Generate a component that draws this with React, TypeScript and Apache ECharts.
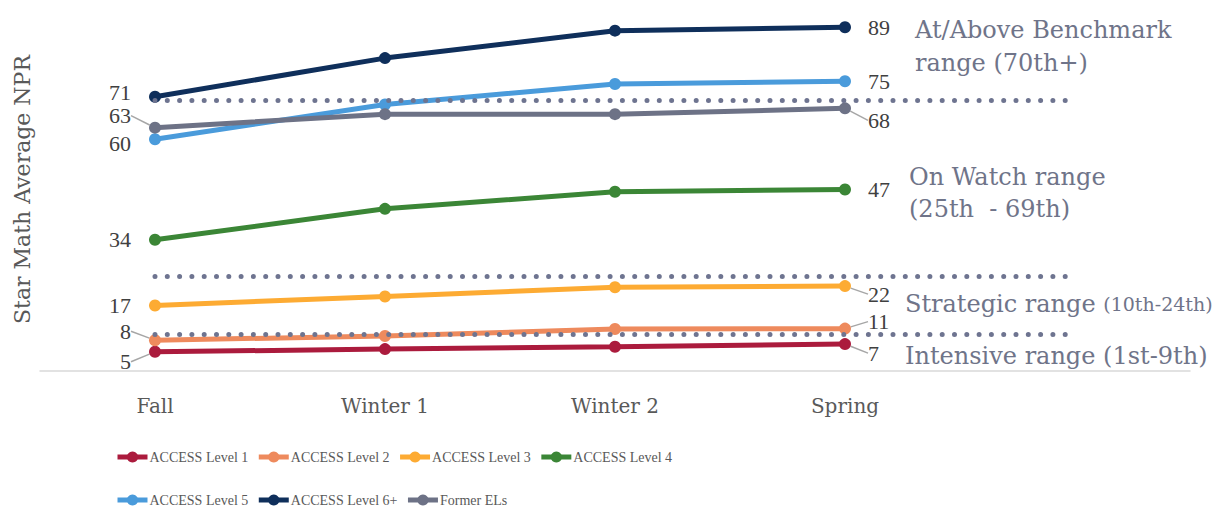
import React, { useEffect, useRef } from "react";
import * as echarts from "echarts";

// Test windows on the category axis; the trailing blank slot gives room for the range notes.
const categories = ["Fall", "Winter 1", "Winter 2", "Spring", ""];

// Star Math average NPR per ACCESS level
const level1 = [5, 5.7, 6.3, 7];
const level2 = [8, 9.1, 10.9, 11];
const level3 = [17, 19.3, 21.7, 22];
const level4 = [34, 42, 46.4, 47];
const level5 = [60, 69, 74.3, 75];
const level6 = [71, 81, 88.1, 89];
const formerELs = [63, 66.5, 66.5, 68];

// Range cut points (dotted guides)
const benchmarkCut = [70, 70, 70, 70, 70];
const onWatchCut = [24.5, 24.5, 24.5, 24.5, 24.5];
const strategicCut = [9.5, 9.5, 9.5, 9.5, 9.5];

const seriesNames = [
  "ACCESS Level 1",
  "ACCESS Level 2",
  "ACCESS Level 3",
  "ACCESS Level 4",
  "ACCESS Level 5",
  "ACCESS Level 6+",
  "Former ELs",
];
const seriesValues = [level1, level2, level3, level4, level5, level6, formerELs];
const seriesColors = ["#ab1b3d", "#ee8a5d", "#fdab33", "#3b8636", "#4a9bdb", "#0f2f5b", "#6d7286"];

// Vertical nudges for end labels that would otherwise collide
const leftNudge: Record<number, number> = { 0: 10, 1: -9, 4: 4, 5: -4, 6: -12 };
const rightNudge: Record<number, number> = { 0: 9, 1: -7, 2: 8, 6: 12 };

const LABEL_FONT = "Liberation Serif";
const SERIF = "DejaVu Serif";
const NOTE_COLOR = "#6f7489";

export default function App() {
  const ref = useRef<HTMLDivElement>(null);

  useEffect(() => {
    if (!ref.current) return;
    const chart = echarts.init(ref.current, undefined, { renderer: "svg" });

    const dataSeries = seriesValues.map((vals, si) => ({
      name: seriesNames[si],
      type: "line",
      z: 2 + si,
      symbol: "circle",
      symbolSize: 12,
      lineStyle: { width: 5, color: seriesColors[si] },
      itemStyle: { color: seriesColors[si] },
      label: {
        fontFamily: LABEL_FONT,
        fontSize: 22,
        lineHeight: 18,
        color: "#404040",
      },
      labelLayout: (p: any) => {
        if (p.dataIndex === 0 && leftNudge[si] !== undefined) return { dy: leftNudge[si] };
        if (p.dataIndex === vals.length - 1 && rightNudge[si] !== undefined) return { dy: rightNudge[si] };
        return {};
      },
      data: vals.map((v, i) => {
        const first = i === 0;
        const last = i === vals.length - 1;
        if (!first && !last) return v;
        const nudge = first ? leftNudge[si] : rightNudge[si];
        const withLeader = nudge !== undefined && Math.abs(nudge) > 4;
        return {
          value: v,
          label: {
            show: true,
            position: first ? "left" : "right",
            distance: first ? 18 : 17,
          },
          labelLine: withLeader
            ? { show: true, lineStyle: { color: "#a6a6a6", width: 1.5 } }
            : { show: false },
        };
      }),
    }));

    const guide = (name: string, vals: number[]) => ({
      name,
      type: "line",
      z: 20,
      silent: true,
      symbol: "none",
      lineStyle: { width: 5, color: "#6e7490", type: [0, 12.3], cap: "round" },
      data: vals,
    });

    const legendBase = {
      left: 115,
      padding: 0,
      itemWidth: 30,
      itemHeight: 14,
      itemGap: 8,
      lineStyle: { width: 5 },
      textStyle: { fontFamily: LABEL_FONT, fontSize: 14, color: "#595959", padding: [0, 0, 0, -3] },
    };

    chart.setOption({
      animation: false,
      grid: {
        left: 40,
        right: 30,
        top: 4,
        height: 371,
        containLabel: false,
        outerBoundsMode: "none",
      },
      legend: [
        { ...legendBase, data: seriesNames.slice(0, 4), top: 450 },
        { ...legendBase, data: seriesNames.slice(4), top: 493 },
      ],
      xAxis: {
        type: "category",
        data: categories,
        boundaryGap: true,
        axisLine: { lineStyle: { color: "#d9d9d9", width: 1.5 } },
        axisTick: { show: false },
        axisLabel: {
          interval: 0,
          margin: 21,
          fontFamily: SERIF,
          fontSize: 20,
          color: "#595959",
        },
      },
      yAxis: {
        type: "value",
        min: -1,
        max: 95,
        name: "Star Math Average NPR",
        nameLocation: "middle",
        nameGap: 7,
        nameTextStyle: { fontFamily: SERIF, fontSize: 22, color: "#595959", padding: [0, 0, 0, 0] },
        axisLine: { show: false },
        axisTick: { show: false },
        axisLabel: { show: false },
        splitLine: { show: false },
      },
      series: [
        ...dataSeries,
        guide("benchmark", benchmarkCut),
        guide("onWatch", onWatchCut),
        guide("strategic", strategicCut),
      ],
      graphic: [
        {
          type: "text",
          left: 915,
          top: 13,
          style: {
            text: "At/Above Benchmark\nrange (70th+)",
            font: `24px "${SERIF}"`,
            fill: NOTE_COLOR,
            lineHeight: 33,
          },
        },
        {
          type: "text",
          left: 909,
          top: 161,
          style: {
            text: "On Watch range\n(25th  - 69th)",
            font: `24px "${SERIF}"`,
            fill: NOTE_COLOR,
            lineHeight: 32,
          },
        },
        {
          type: "text",
          left: 905,
          top: 292,
          style: {
            text: "{a|Strategic range }{b|(10th-24th)}",
            fill: NOTE_COLOR,
            rich: {
              a: { fontFamily: SERIF, fontSize: 24, fill: NOTE_COLOR, lineHeight: 30 },
              b: { fontFamily: SERIF, fontSize: 19, fill: NOTE_COLOR, lineHeight: 30 },
            },
          },
        },
        {
          type: "text",
          left: 905,
          top: 344,
          style: {
            text: "Intensive range (1st-9th)",
            font: `24px "${SERIF}"`,
            fill: NOTE_COLOR,
          },
        },
      ],
    });

    return () => chart.dispose();
  }, []);

  return (
    <div
      ref={ref}
      style={{ position: "absolute", left: 0, top: 0, width: 1220, height: 512 }}
    />
  );
}
